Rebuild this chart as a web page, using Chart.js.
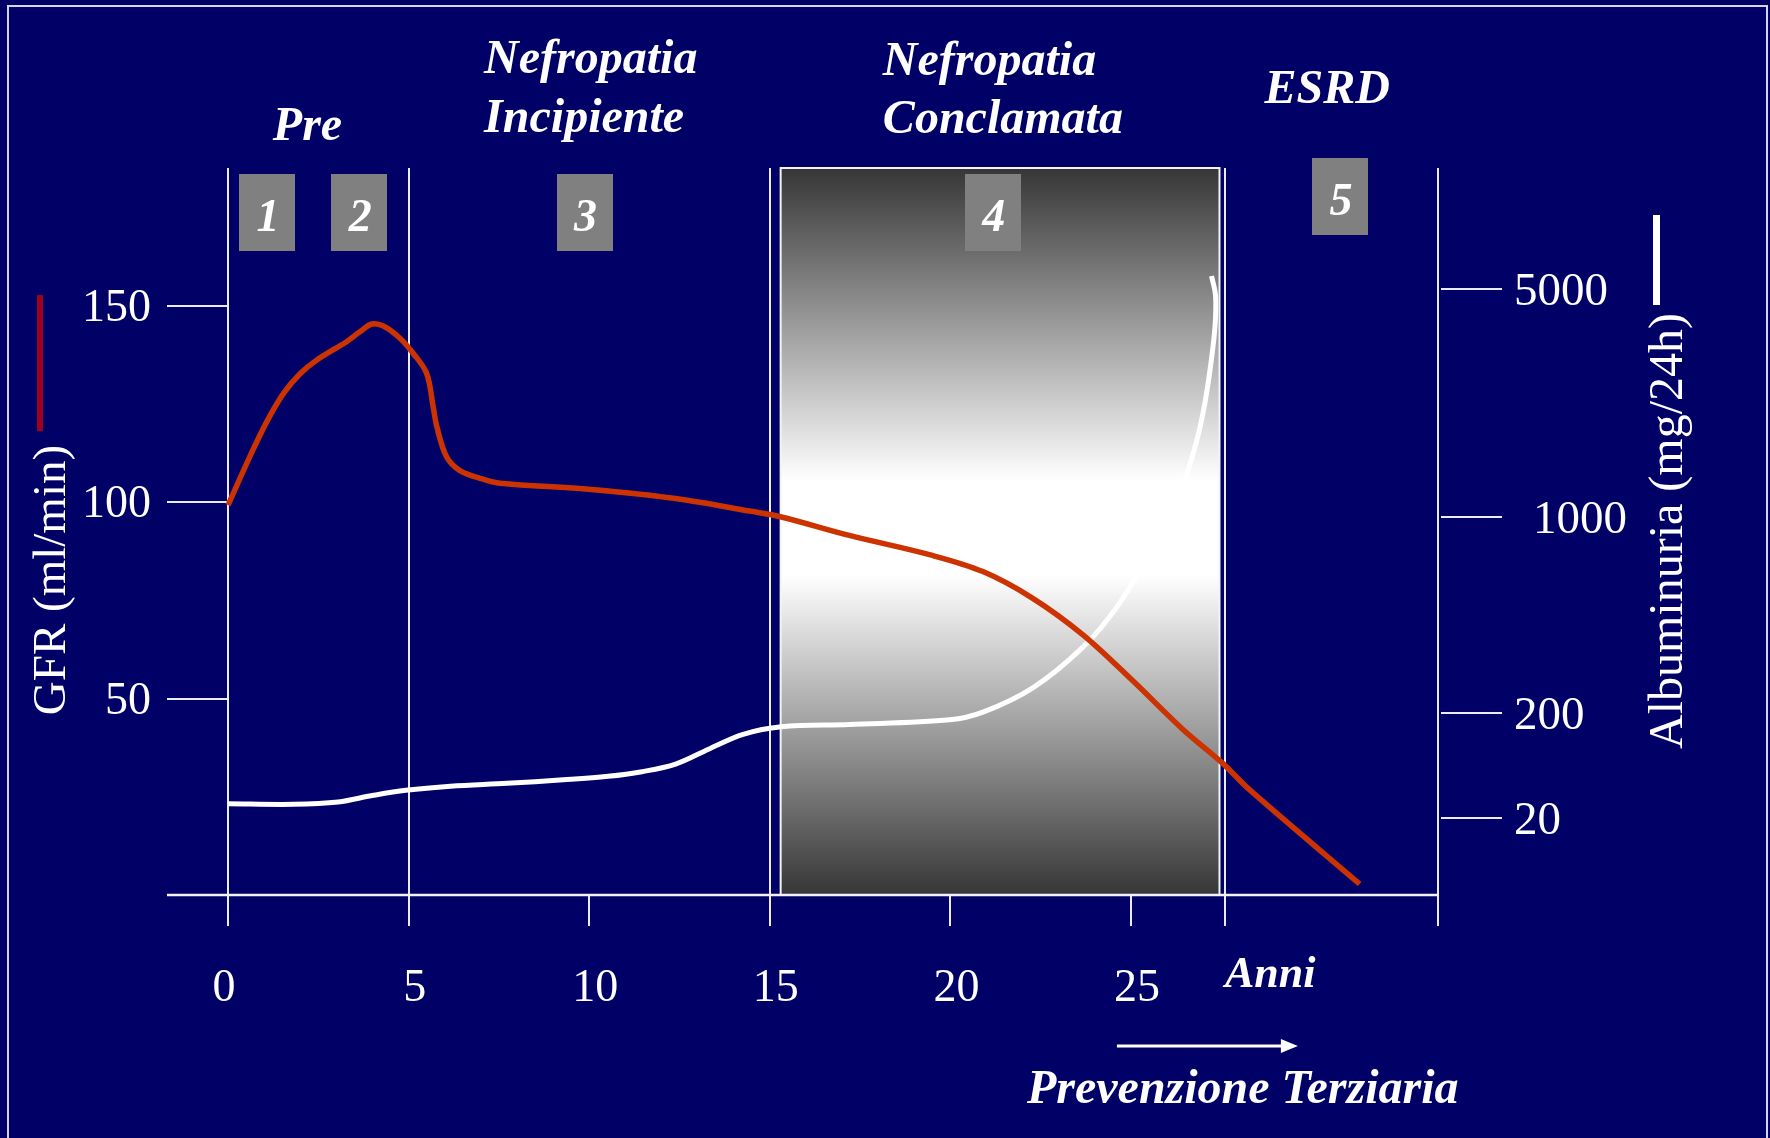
<!DOCTYPE html>
<html>
<head>
<meta charset="utf-8">
<title>Storia naturale della nefropatia diabetica</title>
<script src="https://cdn.jsdelivr.net/npm/chart.js@4/dist/chart.umd.min.js"></script>
<style>
  html, body { margin: 0; padding: 0; background: #000066; }
  canvas { display: block; }
</style>
</head>
<body>
<canvas id="chart" width="1770" height="1138"></canvas>
<script>
// ---- GFR (ml/min) over the years ----
const gfrYears  = [0, 0.6, 1.07, 1.53, 2.0, 2.45, 3.28, 3.65, 3.98, 4.3,
                   4.76, 5.13, 5.5, 5.68, 5.78, 6.05, 6.42, 7.07, 7.53, 10.06,
                   12.39, 14.44, 15.32, 17.2, 19.42, 20.9, 22.28, 23.67, 25.05, 26.43,
                   27.54, 28.28, 31.33];
const gfrValues = [99.2, 111.5, 120.4, 127.6, 132.7, 136.1, 140.8, 143.3, 145.3, 144.8,
                   141.7, 137.8, 132.7, 124.2, 119.2, 111.5, 108.0, 105.8, 104.8, 103.2,
                   100.9, 97.7, 96.2, 91.5, 86.6, 82.3, 75.5, 66.2, 54.5, 42.2,
                   33.5, 26.8, 2.8];

// ---- Albuminuria (mg/24h) over the years ----
const albYears  = [0, 1.81, 3.05, 3.99, 4.92, 6.16, 7.72, 9.28, 10.52, 11.46,
                   12.39, 13.32, 14.26, 15.32, 17.2, 19.98, 20.9, 22.28, 23.67, 24.59,
                   25.51, 26.08, 26.45, 26.82, 27.05, 27.23, 27.33, 27.34, 27.23];
const albValues = [45, 44, 48, 59, 68, 75, 80, 86, 92, 100,
                   113, 139, 164, 177, 181, 189, 205, 304, 470, 629,
                   846, 993, 1573, 2340, 3015, 3782, 4384, 4895, 5232];

// ---- axes ----
const yearTicks = [0, 5, 10, 15, 20, 25];
const gfrTicks  = [50, 100, 150];
const albTicks  = [20, 200, 1000, 5000];

// ---- stages ----
const stageBoundaryYears = [0, 5, 15, 27.6];
const overtBandYears     = [15.3, 27.45];
const stageNumbers       = ['1', '2', '3', '4', '5'];
const stageNumberYears   = [1.08, 3.63, 9.87, 21.17, 30.79];

// The albuminuria axis is drawn with uneven spacing between its labelled
// values: [value, fraction of the axis height].
const ALB_AXIS_BREAKS = [[0, 0], [20, 0.1055], [200, 0.2498], [1000, 0.520], [5000, 0.8332]];

function albFraction(v) {
  const b = ALB_AXIS_BREAKS;
  let i = 1;
  while (i < b.length - 1 && v > b[i][0]) i++;
  const [v0, f0] = b[i - 1], [v1, f1] = b[i];
  return f0 + (v - v0) * (f1 - f0) / (v1 - v0);
}
function albValueAt(f) {
  const b = ALB_AXIS_BREAKS;
  let i = 1;
  while (i < b.length - 1 && f > b[i][1]) i++;
  const [v0, f0] = b[i - 1], [v1, f1] = b[i];
  return v0 + (f - f0) * (v1 - v0) / (f1 - f0);
}

class AlbuminuriaScale extends Chart.LinearScale {
  getPixelForValue(value) { return this.getPixelForDecimal(albFraction(value)); }
  getValueForPixel(pixel) { return albValueAt(this.getDecimalForPixel(pixel)); }
}
AlbuminuriaScale.id = 'albuminuria';
AlbuminuriaScale.defaults = {};
Chart.register(AlbuminuriaScale);

const NAVY = '#000066';
const LINE = '#ececf8';
const SERIF = '"Liberation Serif", "Times New Roman", serif';
const TICK_BELOW = 31;   // tick marks hanging under the time axis

function label(ctx, str, x, y, font, align) {
  ctx.font = font;
  ctx.textAlign = align || 'left';
  ctx.textBaseline = 'alphabetic';
  ctx.fillStyle = '#ffffff';
  ctx.fillText(str, x, y);
}

const slideArt = {
  id: 'slideArt',
  beforeDraw(chart) {
    const { ctx, width, height } = chart;
    ctx.save();
    ctx.fillStyle = NAVY;
    ctx.fillRect(0, 0, width, height);
    ctx.strokeStyle = '#d4d4f0';
    ctx.lineWidth = 2;
    ctx.beginPath();
    ctx.moveTo(8, height); ctx.lineTo(8, 6); ctx.lineTo(1767, 6); ctx.lineTo(1767, height);
    ctx.stroke();
    ctx.restore();
  },
  beforeDatasetsDraw(chart) {
    const { ctx, chartArea: a } = chart;
    const xs = chart.scales.x, yg = chart.scales.yGfr, ya = chart.scales.yAlb;
    ctx.save();

    // overt nephropathy band
    const bx0 = xs.getPixelForValue(overtBandYears[0]);
    const bx1 = xs.getPixelForValue(overtBandYears[1]);
    const g = ctx.createLinearGradient(0, a.top, 0, a.bottom);
    g.addColorStop(0, '#363636');
    g.addColorStop(0.43, '#ffffff');
    g.addColorStop(0.56, '#ffffff');
    g.addColorStop(1, '#363636');
    ctx.fillStyle = g;
    ctx.fillRect(bx0, a.top, bx1 - bx0, a.bottom - a.top);
    ctx.strokeStyle = '#f4f4f4';
    ctx.lineWidth = 2;
    ctx.strokeRect(bx0, a.top, bx1 - bx0, a.bottom - a.top);

    ctx.strokeStyle = LINE;
    ctx.lineWidth = 2;
    // stage boundaries (full height) and the right axis
    ctx.beginPath();
    stageBoundaryYears.forEach(yr => {
      const x = Math.round(xs.getPixelForValue(yr));
      ctx.moveTo(x, a.top); ctx.lineTo(x, a.bottom + TICK_BELOW);
    });
    ctx.moveTo(a.right, a.top); ctx.lineTo(a.right, a.bottom + TICK_BELOW);
    // remaining year ticks
    yearTicks.forEach(yr => {
      const x = Math.round(xs.getPixelForValue(yr));
      ctx.moveTo(x, a.bottom); ctx.lineTo(x, a.bottom + TICK_BELOW);
    });
    // GFR ticks
    gfrTicks.forEach(v => {
      const y = Math.round(yg.getPixelForValue(v));
      ctx.moveTo(a.left, y); ctx.lineTo(xs.getPixelForValue(0), y);
    });
    // albuminuria ticks
    albTicks.forEach(v => {
      const y = Math.round(ya.getPixelForValue(v));
      ctx.moveTo(a.right + 3, y); ctx.lineTo(a.right + 64, y);
    });
    ctx.stroke();

    // time axis
    ctx.lineWidth = 2.5;
    ctx.strokeStyle = '#f2f2fc';
    ctx.beginPath();
    ctx.moveTo(a.left, a.bottom); ctx.lineTo(a.right, a.bottom);
    ctx.stroke();

    // tick labels
    const yearShift = { 0: -4 };
    yearTicks.forEach(yr => label(ctx, String(yr),
      xs.getPixelForValue(yr) + (yr in yearShift ? yearShift[yr] : 6), a.bottom + 106, '46px ' + SERIF, 'center'));
    gfrTicks.forEach(v => label(ctx, String(v), a.left - 16, yg.getPixelForValue(v) + 15, '46px ' + SERIF, 'right'));
    const albIndent = { 1000: 19 };
    albTicks.forEach(v => label(ctx, String(v), a.right + 76 + (albIndent[v] || 0), ya.getPixelForValue(v) + 16, '47px ' + SERIF, 'left'));
    ctx.restore();
  },
  afterDatasetsDraw(chart) {
    const { ctx, chartArea: a } = chart;
    const xs = chart.scales.x;
    const BI = 'italic bold 48px ' + SERIF;
    ctx.save();

    // stage number boxes
    stageNumbers.forEach((n, i) => {
      const cx = xs.getPixelForValue(stageNumberYears[i]);
      const top = i === 4 ? a.top - 10 : a.top + 6;
      ctx.fillStyle = '#808080';
      ctx.fillRect(Math.round(cx - 28), top, 56, 77);
      label(ctx, n, cx + 1, top + 57, 'italic bold 46px ' + SERIF, 'center');
    });

    // stage names
    label(ctx, 'Pre', xs.getPixelForValue(2.2), 140, BI, 'center');
    label(ctx, 'Nefropatia', xs.getPixelForValue(7.09), 73, BI, 'left');
    label(ctx, 'Incipiente', xs.getPixelForValue(7.09), 132, BI, 'left');
    label(ctx, 'Nefropatia', xs.getPixelForValue(18.13), 75, BI, 'left');
    label(ctx, 'Conclamata', xs.getPixelForValue(18.13), 133, BI, 'left');
    label(ctx, 'ESRD', xs.getPixelForValue(30.43), 103, BI, 'center');

    // time axis caption and tertiary prevention arrow
    label(ctx, 'Anni', xs.getPixelForValue(27.6), a.bottom + 92, 'italic bold 44px ' + SERIF, 'left');
    const ax0 = xs.getPixelForValue(24.61), ax1 = xs.getPixelForValue(29.62), ay = a.bottom + 151;
    ctx.strokeStyle = '#ffffff';
    ctx.lineWidth = 3;
    ctx.beginPath(); ctx.moveTo(ax0, ay); ctx.lineTo(ax1 - 14, ay); ctx.stroke();
    ctx.fillStyle = '#ffffff';
    ctx.beginPath(); ctx.moveTo(ax1, ay); ctx.lineTo(ax1 - 17, ay - 7); ctx.lineTo(ax1 - 17, ay + 7); ctx.closePath(); ctx.fill();
    label(ctx, 'Prevenzione Terziaria', xs.getPixelForValue(22.12), a.bottom + 208, BI, 'left');

    // axis titles with their series swatches
    ctx.fillStyle = '#a00020';
    ctx.fillRect(37, 295, 6, 136);
    ctx.save();
    ctx.translate(65, 580); ctx.rotate(-Math.PI / 2);
    label(ctx, 'GFR (ml/min)', 0, 0, '47px ' + SERIF, 'center');
    ctx.restore();

    ctx.fillStyle = '#ffffff';
    ctx.fillRect(1653, 215, 7, 90);
    ctx.save();
    ctx.translate(1682, 531); ctx.rotate(-Math.PI / 2);
    label(ctx, 'Albuminuria (mg/24h)', 0, 0, '48px ' + SERIF, 'center');
    ctx.restore();

    ctx.restore();
  }
};

new Chart(document.getElementById('chart').getContext('2d'), {
  type: 'line',
  data: {
    datasets: [
      {
        label: 'GFR (ml/min)',
        data: gfrYears.map((x, i) => ({ x, y: gfrValues[i] })),
        xAxisID: 'x', yAxisID: 'yGfr',
        borderColor: '#cc3300', borderWidth: 5.5,
        pointRadius: 0, tension: 0.35, borderJoinStyle: 'round', fill: false
      },
      {
        label: 'Albuminuria (mg/24h)',
        data: albYears.map((x, i) => ({ x, y: albValues[i] })),
        xAxisID: 'x', yAxisID: 'yAlb',
        borderColor: '#ffffff', borderWidth: 5,
        pointRadius: 0, tension: 0.35, borderJoinStyle: 'round', fill: false
      }
    ]
  },
  options: {
    responsive: false,
    animation: false,
    devicePixelRatio: 1,
    events: [],
    layout: { padding: { left: 167, right: 332, top: 168, bottom: 243 } },
    plugins: { legend: { display: false }, tooltip: { enabled: false } },
    scales: {
      x:    { type: 'linear', min: -1.69, max: 33.5, display: false },
      yGfr: { type: 'linear', position: 'left', min: 0, max: 185, display: false },
      yAlb: { type: 'albuminuria', position: 'right', min: 0, max: 7200, display: false }
    }
  },
  plugins: [slideArt]
});
</script>
</body>
</html>
